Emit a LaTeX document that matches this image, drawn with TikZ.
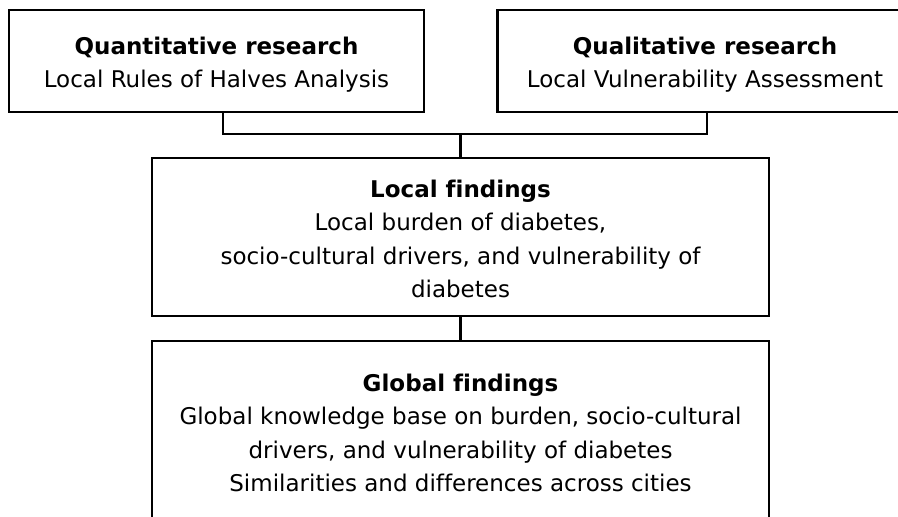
\documentclass[tikz,border=0pt]{standalone}
\usepackage{fontspec}
\setmainfont[Ligatures=NoCommon]{DejaVu Sans}
\begin{document}
\begin{tikzpicture}[x=1pt,y=1pt,
  box/.style={draw=black, line width=2.5pt, fill=white, inner sep=0pt},
  txt/.style={inner sep=0pt, align=center, font=\fontsize{23}{33.5}\selectfont},
  link/.style={draw=black, line width=2.5pt}]
\clip (0,0) rectangle (898,-517);
\useasboundingbox (0,0) rectangle (898,-517);
\node[box, minimum width=415pt, minimum height=102pt] (quant) at (216.5,-61) {};
\node[box, minimum width=415pt, minimum height=102pt] (qual) at (705,-61) {};
\node[box, minimum width=617pt, minimum height=158pt] (local) at (460.5,-237) {};
\node[box, minimum width=617pt, minimum height=184pt] (global) at (460.5,-433) {};
\node[txt] (quanttxt) at ([yshift=-3.5pt]quant.center)
  {\textbf{Quantitative research}\\Local Rules of Halves Analysis};
\node[txt] (qualtxt) at ([yshift=-3.5pt]qual.center)
  {\textbf{Qualitative research}\\Local Vulnerability Assessment};
\node[txt] (localtxt) at ([yshift=-2pt]local.center)
  {\textbf{Local findings}\\Local burden of diabetes,\\socio-cultural drivers, and vulnerability of\\diabetes};
\node[txt] (globaltxt) at (global.center)
  {\textbf{Global findings}\\Global knowledge base on burden, socio-cultural\\drivers, and vulnerability of diabetes\\Similarities and differences across cities};
\coordinate (j) at (460.5,-134);
\draw[link] ([xshift=6.5pt]quant.south) |- (j) -| ([xshift=2pt]qual.south);
\draw[link] (j) -- (local.north);
\draw[link] (local.south) -- (global.north);
\end{tikzpicture}
\end{document}
